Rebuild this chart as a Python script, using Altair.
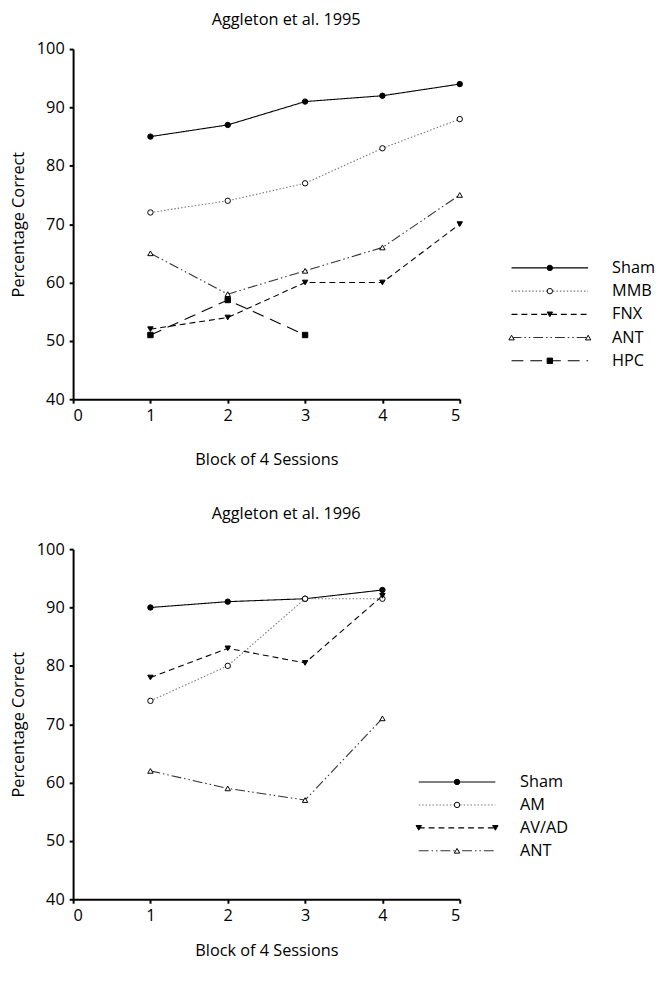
import altair as alt
import pandas as pd

FONT = "Open Sans"

# ---- data: Aggleton et al. 1995 ----
blocks_95 = [1, 2, 3, 4, 5]
sham_95 = [85, 87, 91, 92, 94]
mmb_95 = [72, 74, 77, 83, 88]
fnx_95 = [52, 54, 60, 60, 70]
ant_95 = [65, 58, 62, 66, 75]
hpc_blocks_95 = [1, 2, 3]
hpc_95 = [51, 57, 51]
series_95 = ["Sham", "MMB", "FNX", "ANT", "HPC"]

# ---- data: Aggleton et al. 1996 ----
blocks_96 = [1, 2, 3, 4]
sham_96 = [90, 91, 91.5, 93]
am_96 = [74, 80, 91.5, 91.5]
avad_96 = [78, 83, 80.5, 92]
ant_96 = [62, 59, 57, 71]
series_96 = ["Sham", "AM", "AV/AD", "ANT"]

x_ticks = [0, 1, 2, 3, 4, 5]
y_ticks = [40, 50, 60, 70, 80, 90, 100]

# ---- styles ----
all_series = ["Sham", "MMB", "AM", "FNX", "AV/AD", "ANT", "HPC"]
dash_range = [[1, 0], [1.5, 2], [1.5, 2], [6, 4], [6, 4], [10, 3, 1.5, 3, 1.5, 3], [12, 7]]
shape_range = ["circle", "circle", "circle", "triangle-down", "triangle-down", "triangle-up", "square"]
fill_range = ["black", "white", "white", "black", "black", "white", "black"]
line_color_range = ["black", "#777777", "#777777", "black", "black", "#333333", "black"]
size_range = [30, 30, 30, 55, 55, 45, 45]

dash_scale = alt.Scale(domain=all_series, range=dash_range)
shape_scale = alt.Scale(domain=all_series, range=shape_range)
fill_scale = alt.Scale(domain=all_series, range=fill_range)
lcolor_scale = alt.Scale(domain=all_series, range=line_color_range)
size_scale = alt.Scale(domain=all_series, range=size_range)


def long_df(pairs):
    rows = []
    for name, xs, ys in pairs:
        for x, y in zip(xs, ys):
            rows.append({"series": name, "block": x, "pct": y})
    return pd.DataFrame(rows)


def legend_dfs(series, marker_pos, x0, x1, y0, step):
    lrows, prows = [], []
    for i, name in enumerate(series):
        y = y0 + i * step
        lrows += [{"series": name, "block": x0, "pct": y, "o": 0},
                  {"series": name, "block": x1, "pct": y, "o": 1}]
        if marker_pos[name] == "ends":
            prows += [{"series": name, "block": x0, "pct": y},
                      {"series": name, "block": x1, "pct": y}]
        else:
            prows.append({"series": name, "block": (x0 + x1) / 2, "pct": y})
    return pd.DataFrame(lrows), pd.DataFrame(prows)


def panel(df, series, title, marker_pos, lx0, lx1, ltext, ly0, lstep, toffset, xtpad):
    xenc = alt.X("block:Q", scale=alt.Scale(domain=[0, 5], nice=False, zero=False),
                 axis=alt.Axis(values=x_ticks, format="d", title="Block of 4 Sessions",
                               titlePadding=xtpad))
    yenc = alt.Y("pct:Q", scale=alt.Scale(domain=[40, 100], nice=False, zero=False),
                 axis=alt.Axis(values=y_ticks, title="Percentage Correct", titlePadding=10))
    dash = alt.StrokeDash("series:N", scale=dash_scale, legend=None)
    lcol = alt.Stroke("series:N", scale=lcolor_scale, legend=None)
    shp = alt.Shape("series:N", scale=shape_scale, legend=None)
    fil = alt.Fill("series:N", scale=fill_scale, legend=None)
    siz = alt.Size("series:N", scale=size_scale, legend=None)

    base = alt.Chart(df)
    lines = base.mark_line(strokeWidth=1.1).encode(
        x=xenc, y=yenc, strokeDash=dash, stroke=lcol, detail="series:N")
    pts = base.mark_point(filled=True, fillOpacity=1, opacity=1, stroke="black",
                          strokeWidth=1).encode(x=xenc, y=yenc, shape=shp, fill=fil, size=siz)

    ldf, pdf = legend_dfs(series, marker_pos, lx0, lx1, ly0, lstep)
    tdf = pd.DataFrame({"series": series, "block": [ltext] * len(series),
                        "pct": [ly0 + i * lstep for i in range(len(series))]})
    llines = alt.Chart(ldf).mark_line(strokeWidth=1.1).encode(
        x="block:Q", y="pct:Q", strokeDash=dash, stroke=lcol, detail="series:N", order="o:Q")
    lpts = alt.Chart(pdf).mark_point(filled=True, fillOpacity=1, opacity=1, stroke="black",
                                     strokeWidth=1).encode(
        x="block:Q", y="pct:Q", shape=shp, fill=fil, size=siz)
    ltxt = alt.Chart(tdf).mark_text(align="left", baseline="middle", fontSize=16.5,
                                    font=FONT, color="black").encode(
        x="block:Q", y="pct:Q", text="series:N")

    return alt.layer(lines, pts, llines, lpts, ltxt).properties(
        width=392, height=355,
        title=alt.TitleParams(title, dx=20, offset=toffset))


df95 = long_df([("Sham", blocks_95, sham_95), ("MMB", blocks_95, mmb_95),
                ("FNX", blocks_95, fnx_95), ("ANT", blocks_95, ant_95),
                ("HPC", hpc_blocks_95, hpc_95)])
df96 = long_df([("Sham", blocks_96, sham_96), ("AM", blocks_96, am_96),
                ("AV/AD", blocks_96, avad_96), ("ANT", blocks_96, ant_96)])

mp95 = {"Sham": "mid", "MMB": "mid", "FNX": "mid", "ANT": "ends", "HPC": "mid"}
mp96 = {"Sham": "mid", "AM": "mid", "AV/AD": "ends", "ANT": "mid"}

top = panel(df95, series_95, "Aggleton et al. 1995", mp95, 5.67, 6.66, 6.97, 62.5, -3.98, 13, 28)
bottom = panel(df96, series_96, "Aggleton et al. 1996", mp96, 4.47, 5.46, 5.78, 60.1, -3.93, 19, 18)

chart = alt.vconcat(top, bottom, spacing=38).properties(
    padding={"left": 2, "top": -3, "right": 2, "bottom": 0}).configure_view(
    stroke=None).configure_axis(
    domainColor="black", domainWidth=2, tickColor="black", tickWidth=2, tickSize=4,
    labelFontSize=16.5, titleFontSize=16.5, labelFont=FONT, titleFont=FONT,
    labelColor="black", titleColor="black", titleFontWeight="normal", grid=False,
    labelPadding=5).configure_title(
    fontSize=16.5, font=FONT, fontWeight="normal", color="black")

chart.save("out.html", embed_options={"renderer": "svg", "actions": False})
